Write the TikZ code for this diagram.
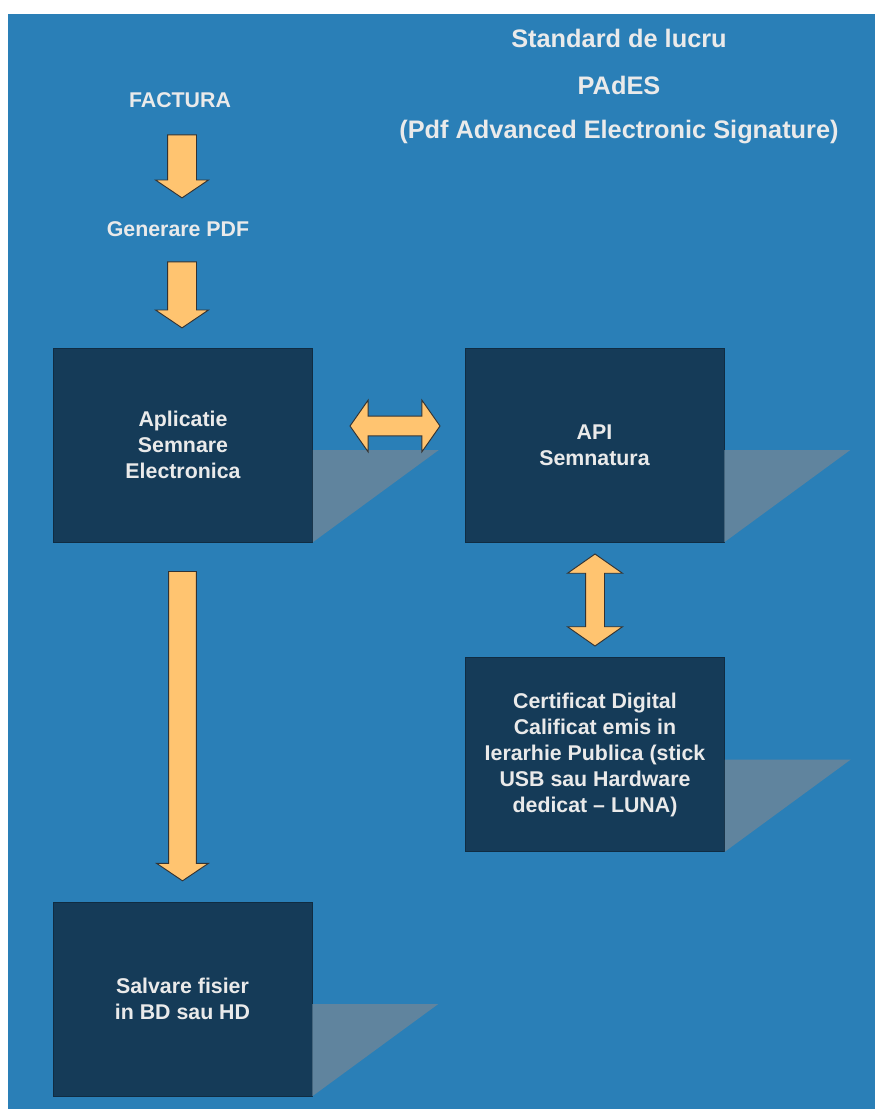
\documentclass[tikz,border=0pt]{standalone}
\usepackage{fontspec}
\setmainfont{Liberation Sans}
\usetikzlibrary{shapes.arrows}
\definecolor{bgblue}{RGB}{42,127,183}
\definecolor{boxblue}{RGB}{21,59,88}
\definecolor{shadowgrey}{RGB}{96,132,158}
\definecolor{arrowfill}{RGB}{255,196,112}
\definecolor{txtgrey}{RGB}{234,234,234}
\tikzstyle{block} = [rectangle, minimum width=194.25pt, minimum height=145.5pt, align=center, text=txtgrey, fill=boxblue, draw=boxblue!75!black, font=\fontsize{16}{19.5}\selectfont\bfseries]
\tikzstyle{lbl} = [text=txtgrey, font=\fontsize{16}{19.5}\selectfont\bfseries]
\tikzstyle{headline} = [text=txtgrey, font=\fontsize{19}{23}\selectfont\bfseries]
\tikzstyle{fat} = [single arrow, draw=black!80, fill=arrowfill, line width=0.7pt, inner xsep=0pt, inner ysep=10.5pt, single arrow head extend=9pt, single arrow tip angle=112]
\tikzstyle{fatboth} = [double arrow, draw=black!80, fill=arrowfill, line width=0.7pt, inner xsep=0pt, inner ysep=7pt, double arrow head extend=12pt, double arrow tip angle=110]
\tikzstyle{shade} = [fill=shadowgrey]

\begin{document}
\begin{tikzpicture}[x=0.75pt,y=-0.75pt]
\useasboundingbox (0,0) rectangle (875,1109);
\fill[bgblue] (8,14) rectangle (875,1109);
% titlu
\node[headline] (std) at (619,38) {Standard de lucru};
\node[headline] (pades) at (619,85) {PAdES};
\node[headline] (pdfaes) at (619,132) {(Pdf Advanced Electronic Signature)};
% coloana stanga
\node[lbl] (factura) at (180,100) {FACTURA};
\node[lbl] (genpdf) at (178,229) {Generare PDF};
\node[block] (apl) at (183,445) {Aplicatie\\Semnare\\Electronica};
\node[block] (salv) at (182.5,999) {Salvare fisier\\in BD sau HD};
% coloana dreapta
\node[block] (api) at (594.5,445) {API\\Semnatura};
\node[block] (cert) at (595,754.5) {Certificat Digital\\Calificat emis in\\Ierarhie Publica (stick\\USB sau Hardware\\dedicat -- LUNA)};
% umbre
\foreach \b in {apl,api,cert,salv}
  \fill[shade] ([yshift=-3.75pt]\b.east) -- ++(126,0) -- (\b.south east) -- cycle;
% sageti
\node[fat, rotate=-90, minimum height=47.25pt] (ar1) at (182,161.5) {};
\node[fat, rotate=-90, minimum height=49.5pt] (ar2) at (182,290) {};
\node[fat, rotate=-90, minimum height=232pt, inner ysep=10pt] (ar3) at (182.5,721.5) {};
\node[fatboth, minimum height=67.5pt] (ar4) at (395,426) {};
\node[fatboth, rotate=90, minimum height=69pt, inner ysep=6.75pt, double arrow head extend=13.5pt] (ar5) at (595,600) {};
\end{tikzpicture}
\end{document}
